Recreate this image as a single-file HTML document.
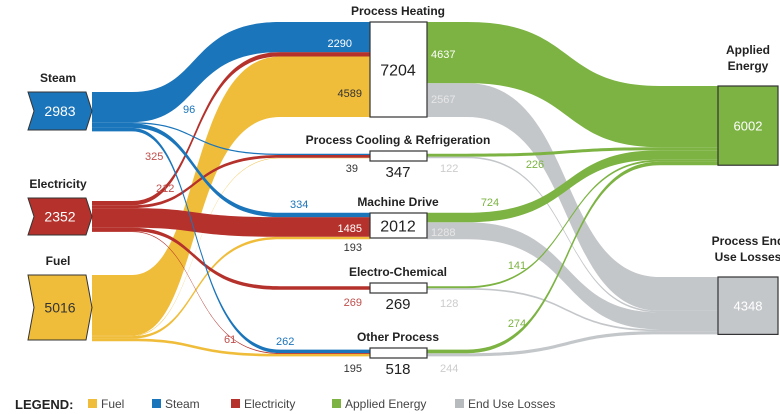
<!DOCTYPE html>
<html><head><meta charset="utf-8">
<style>
html,body{margin:0;padding:0;background:#fff;}
svg{display:block;font-family:"Liberation Sans Narrow","Liberation Sans",sans-serif;}
.lbl{font-weight:bold;font-size:12px;fill:#222;}
.v{font-size:11px;}
</style></head>
<body>
<svg id="chart" width="780" height="414" viewBox="0 0 780 414">
<g id="links"></g>
<g id="nodes"></g>
<g id="vals"></g>
<g font-size="12">
  <text x="15" y="409" font-weight="bold" font-size="13" fill="#222">LEGEND:</text>
  <rect x="88" y="399" width="9" height="9" fill="#f0bd3b"/>
  <text x="101" y="408" fill="#444">Fuel</text>
  <rect x="152" y="399" width="9" height="9" fill="#1b75bb"/>
  <text x="165" y="408" fill="#444">Steam</text>
  <rect x="231" y="399" width="9" height="9" fill="#b5312b"/>
  <text x="244" y="408" fill="#444">Electricity</text>
  <rect x="332" y="399" width="9" height="9" fill="#7cb342"/>
  <text x="345" y="408" fill="#444">Applied Energy</text>
  <rect x="455" y="399" width="9" height="9" fill="#b8bbbe"/>
  <text x="468" y="408" fill="#444">End Use Losses</text>
</g>
</svg>
<script>
// ---- data ----
const linkSource = ["steam","steam","steam","steam","elec","elec","elec","elec","elec","fuel","fuel","fuel","fuel","heat","heat","cool","cool","mach","mach","echem","echem","other","other"];
const linkTarget = ["heat","cool","mach","other","heat","cool","mach","echem","other","heat","cool","mach","other","applied","loss","applied","loss","applied","loss","applied","loss","applied","loss"];
const linkValue  = [2290,96,334,262,325,212,1485,269,61,4589,39,193,195,4637,2567,226,122,724,1288,141,128,274,244];
const nodeIds    = ["steam","elec","fuel","heat","cool","mach","echem","other","applied","loss"];
const nodeNames  = ["Steam","Electricity","Fuel","Process Heating","Process Cooling & Refrigeration","Machine Drive","Electro-Chemical","Other Process","Applied Energy","Process End Use Losses"];
const nodeValues = [2983,2352,5016,7204,347,2012,269,518,6002,4348];

// ---- layout ----
const k = 0.0132;
const NS = "http://www.w3.org/2000/svg";
const colorOf = {steam:"#1b75bb",elec:"#b5312b",fuel:"#f0bd3b",applied:"#7cb342",loss:"#c4c7ca"};
const geo = {
  steam:{x0:28,x1:92,top:92,col:0},
  elec:{x0:28,x1:92,top:201,col:0},
  fuel:{x0:28,x1:92,top:275,col:0},
  heat:{x0:370,x1:427,center:69.5,col:1},
  cool:{x0:370,x1:427,center:156,col:1},
  mach:{x0:370,x1:427,center:226,col:1},
  echem:{x0:370,x1:427,center:288,col:1},
  other:{x0:370,x1:427,center:353,col:1},
  applied:{x0:718,x1:778,top:86,col:2},
  loss:{x0:718,x1:778,top:277,col:2}
};
const sumIn={}, sumOut={};
linkValue.forEach((v,i)=>{sumOut[linkSource[i]]=(sumOut[linkSource[i]]||0)+v;sumIn[linkTarget[i]]=(sumIn[linkTarget[i]]||0)+v;});
function startY(id,total){const g=geo[id];return g.top!==undefined?g.top:g.center-total*k/2;}
const outOff={}, inOff={};
nodeIds.forEach(id=>{outOff[id]=startY(id,sumOut[id]||0);inOff[id]=startY(id,sumIn[id]||0);});

const linksG=document.getElementById('links');
const drawOrder=[];
linkValue.forEach((v,i)=>{
  const s=linkSource[i],t=linkTarget[i];
  const y0=outOff[s]; outOff[s]+=v*k;
  const y1=inOff[t]; inOff[t]+=v*k;
  drawOrder.push({i,s,t,v,y0,y1});
});
const pri={fuel:0,elec:1,steam:2,loss:3,applied:4};
function key(l){return geo[l.s].col===0?pri[l.s]:pri[l.t];}
drawOrder.slice().sort((a,b)=>key(a)-key(b)).forEach(l=>{
  const w=l.v*k, x0=geo[l.s].x1, xEnd=geo[l.t].x0;
  let xs, xe, c1, c2;
  if(geo[l.s].col===0){ xs=x0+40; xe=xEnd-90; c1=xs+70; c2=xs+55; }
  else { xs=x0+40; xe=660; c1=xs+110; c2=xs+90; }
  const d=`M${x0},${l.y0} L${xs},${l.y0} C${c1},${l.y0} ${c2},${l.y1} ${xe},${l.y1} L${xEnd},${l.y1} L${xEnd},${l.y1+w} L${xe},${l.y1+w} C${c2},${l.y1+w} ${c1},${l.y0+w} ${xs},${l.y0+w} L${x0},${l.y0+w} Z`;
  const p=document.createElementNS(NS,'path');
  p.setAttribute('d',d);
  p.setAttribute('fill',geo[l.s].col===0?colorOf[l.s]:colorOf[l.t]);
  
  
  linksG.appendChild(p);
});

// ---- nodes ----
const nodesG=document.getElementById('nodes');
function txt(parent,x,y,s,cls,attrs){
  const t=document.createElementNS(NS,'text');
  t.setAttribute('x',x);t.setAttribute('y',y);
  if(cls)t.setAttribute('class',cls);
  for(const a in attrs)t.setAttribute(a,attrs[a]);
  t.textContent=s;parent.appendChild(t);return t;
}
const srcBox={steam:[92,130],elec:[198,235],fuel:[275,340]};
const midBox={heat:[22,117],cool:[151,161],mach:[213,238],echem:[283,293],other:[348,358]};
nodeIds.forEach((id,i)=>{
  const g=geo[id];
  const grp=document.createElementNS(NS,'g');
  
  
  nodesG.appendChild(grp);
  if(g.col===0){
    const [a,b]=srcBox[id], m=(a+b)/2;
    const p=document.createElementNS(NS,'polygon');
    p.setAttribute('points',`28,${a} 86,${a} 92,${m} 86,${b} 28,${b} 34,${m}`);
    p.setAttribute('fill',colorOf[id]);p.setAttribute('stroke','#333');p.setAttribute('stroke-width','1');
    grp.appendChild(p);
    txt(grp,60,m+5,nodeValues[i],'',{'text-anchor':'middle','font-size':'14',fill:id==='fuel'?'#333':'#fff'});
    txt(grp,58,a-10,nodeNames[i],'lbl',{'text-anchor':'middle'});
  } else if(g.col===1){
    const [a,b]=midBox[id];
    const r=document.createElementNS(NS,'rect');
    r.setAttribute('x',370);r.setAttribute('y',a);r.setAttribute('width',57);r.setAttribute('height',b-a);
    r.setAttribute('fill','#fff');r.setAttribute('stroke','#333');r.setAttribute('stroke-width','1.2');
    grp.appendChild(r);
    txt(grp,398,a-7,nodeNames[i],'lbl',{'text-anchor':'middle'});
    if(b-a>20) txt(grp,398,(a+b)/2+6,nodeValues[i],'',{'text-anchor':'middle','font-size':'16',fill:'#222'});
    else txt(grp,398,b+16,nodeValues[i],'',{'text-anchor':'middle','font-size':'15',fill:'#222'});
  } else {
    const top=g.top, h=nodeValues[i]*k;
    const r=document.createElementNS(NS,'rect');
    r.setAttribute('x',718);r.setAttribute('y',top);r.setAttribute('width',60);r.setAttribute('height',h);
    r.setAttribute('fill',colorOf[id]);r.setAttribute('stroke','#333');r.setAttribute('stroke-width','1.2');
    grp.appendChild(r);
    txt(grp,748,top+h/2+5,nodeValues[i],'',{'text-anchor':'middle','font-size':'13',fill:'#fff'});
    const parts=id==='applied'?['Applied','Energy']:['Process End','Use Losses'];
    txt(grp,748,top-32,parts[0],'lbl',{'text-anchor':'middle'});
    txt(grp,748,top-16,parts[1],'lbl',{'text-anchor':'middle'});
  }
});

// ---- value labels ----
const valsG=document.getElementById('vals');
const labelPos=[[352,47,'#fff','end'],[183,113,'#1b75bb','start'],[290,208,'#1b75bb','start'],[276,345,'#1b75bb','start'],
 [145,160,'#c0504d','start'],[156,192,'#c0504d','start'],[362,232,'#fff','end'],[362,306,'#c0504d','end'],[224,343,'#c0504d','start'],
 [362,97,'#333','end'],[358,172,'#333','end'],[362,251,'#333','end'],[362,372,'#333','end'],
 [431,58,'#fff','start'],[431,103,'#e6e6e6','start'],[535,168,'#7cb342','middle'],[440,172,'#ccc','start'],
 [490,206,'#7cb342','middle'],[431,236,'#e6e6e6','start'],[517,269,'#7cb342','middle'],[440,307,'#ccc','start'],
 [517,327,'#7cb342','middle'],[440,372,'#ccc','start']];
linkValue.forEach((v,i)=>{
  const [x,y,c,a]=labelPos[i];
  const t=txt(valsG,x,y,v,'v',{fill:c,'text-anchor':a});
  
  
});
</script>
</body></html>
